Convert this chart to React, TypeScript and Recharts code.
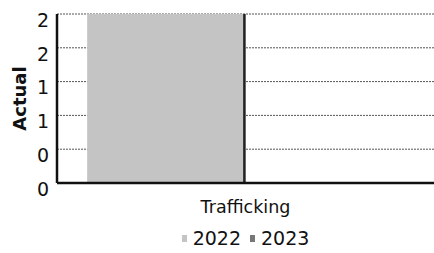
import { BarChart, Bar, XAxis, YAxis, CartesianGrid, Legend } from "recharts";

const categories = ["Trafficking"];
const values2022 = [2.5];
const values2023 = [0];
const yTicks = [0, 0.5, 1, 1.5, 2, 2.5];

const data = categories.map((name, i) => ({
  name,
  y2022: values2022[i],
  y2023: values2023[i],
}));

const font = "'DejaVu Sans', Verdana, sans-serif";

function ShadedBar(props: any) {
  const { x, y, width, height, fill } = props;
  if (!height || height <= 0) return null;
  return (
    <g>
      <rect x={x} y={y} width={width} height={height} fill={fill} />
      <rect x={x + width - 2} y={y} width={2.5} height={height} fill="#222" />
    </g>
  );
}

function YLabel(props: any) {
  const { viewBox } = props;
  const cy = viewBox.y + viewBox.height / 2;
  return (
    <text
      x={19}
      y={cy}
      transform={`rotate(-90, 19, ${cy})`}
      textAnchor="middle"
      dominantBaseline="central"
      fontFamily={font}
      fontSize={18}
      fontWeight="bold"
      fill="#111"
    >
      Actual
    </text>
  );
}

function LegendContent() {
  const items = [
    { label: "2022", color: "#c4c4c4" },
    { label: "2023", color: "#777" },
  ];
  return (
    <div
      style={{
        display: "flex",
        justifyContent: "center",
        gap: 9,
        fontFamily: font,
        fontSize: 19,
        color: "#111",
        paddingLeft: 57,
        paddingTop: 4,
      }}
    >
      {items.map((it) => (
        <span key={it.label} style={{ display: "flex", alignItems: "center", gap: 6 }}>
          <span style={{ width: 5, height: 7, background: it.color, display: "inline-block" }} />
          {it.label}
        </span>
      ))}
    </div>
  );
}

export default function App() {
  return (
    <div style={{ position: "absolute", left: 0, top: 0, background: "#fff" }}>
      <BarChart
        width={434}
        height={253}
        data={data}
        margin={{ top: 14, right: 0, bottom: 0, left: 0 }}
        barCategoryGap="8%"
        barGap={0}
      >
        <CartesianGrid
          vertical={false}
          stroke="#555"
          strokeDasharray="2 1"
          strokeWidth={1}
        />
        <XAxis
          dataKey="name"
          axisLine={{ stroke: "#111", strokeWidth: 2.5 }}
          tickLine={false}
          height={40}
          tick={{ fontFamily: font, fontSize: 17.5, fill: "#111", dy: 10 }}
        />
        <YAxis
          domain={[0, 2.5]}
          ticks={yTicks}
          width={57}
          axisLine={{ stroke: "#111", strokeWidth: 2.5 }}
          tickLine={false}
          tickFormatter={(v: number) => String(Math.floor(v))}
          tick={{ fontFamily: font, fontSize: 19, fill: "#111", dy: 6 }}
          label={<YLabel />}
        />
        <Legend verticalAlign="bottom" height={30} content={<LegendContent />} />
        <Bar dataKey="y2022" name="2022" fill="#c4c4c4" shape={<ShadedBar />} isAnimationActive={false} />
        <Bar dataKey="y2023" name="2023" fill="#777" shape={<ShadedBar />} isAnimationActive={false} />
      </BarChart>
    </div>
  );
}
